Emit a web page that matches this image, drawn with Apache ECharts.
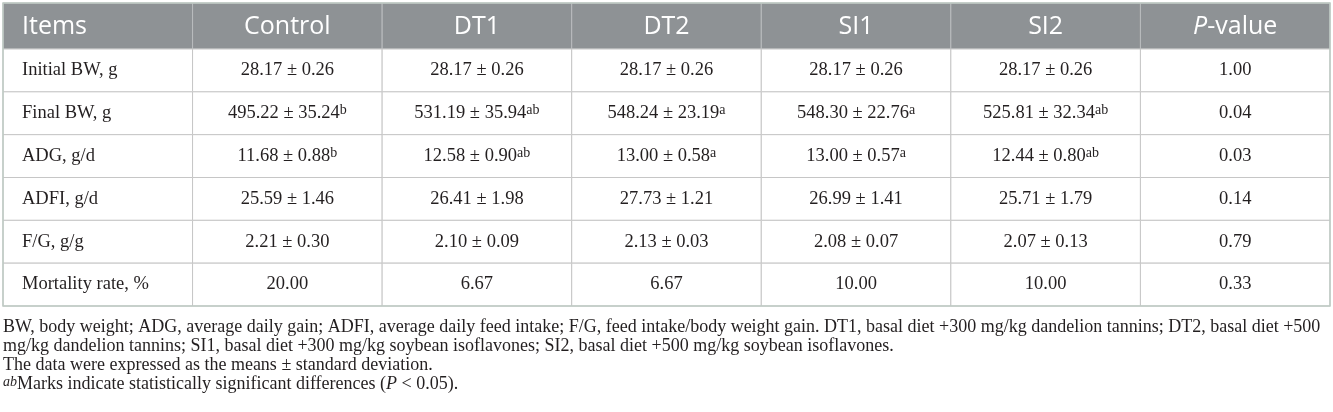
<!DOCTYPE html>
<html>
<head>
<meta charset="utf-8">
<script src="https://cdn.jsdelivr.net/npm/echarts@6/dist/echarts.min.js"></script>
<style>
html, body { margin: 0; padding: 0; background: #fff; }
#main { width: 1333px; height: 412px; }
</style>
</head>
<body>
<div id="main"></div>
<script>
// table contents
var headers = ['Items', 'Control', 'DT1', 'DT2', 'SI1', 'SI2', '{it|P}-value'];
var items = ['Initial BW, g', 'Final BW, g', 'ADG, g/d', 'ADFI, g/d', 'F/G, g/g', 'Mortality rate, %'];

var initialBWMean = [28.17, 28.17, 28.17, 28.17, 28.17];
var initialBWSd = [0.26, 0.26, 0.26, 0.26, 0.26];
var finalBWMean = [495.22, 531.19, 548.24, 548.30, 525.81];
var finalBWSd = [35.24, 35.94, 23.19, 22.76, 32.34];
var finalBWSig = ['b', 'ab', 'a', 'a', 'ab'];
var adgMean = [11.68, 12.58, 13.00, 13.00, 12.44];
var adgSd = [0.88, 0.90, 0.58, 0.57, 0.80];
var adgSig = ['b', 'ab', 'a', 'a', 'ab'];
var adfiMean = [25.59, 26.41, 27.73, 26.99, 25.71];
var adfiSd = [1.46, 1.98, 1.21, 1.41, 1.79];
var fgMean = [2.21, 2.10, 2.13, 2.08, 2.07];
var fgSd = [0.30, 0.09, 0.03, 0.07, 0.13];
var mortality = [20.00, 6.67, 6.67, 10.00, 10.00];
var pValues = [1.00, 0.04, 0.03, 0.14, 0.79, 0.33];

var footnotes = [
	'BW, body weight; ADG, average daily gain; ADFI, average daily feed intake; F/G, feed intake/body weight gain. DT1, basal diet +300 mg/kg dandelion tannins; DT2, basal diet +500',
	'mg/kg dandelion tannins; SI1, basal diet +300 mg/kg soybean isoflavones; SI2, basal diet +500 mg/kg soybean isoflavones.',
	'The data were expressed as the means \u00b1 standard deviation.',
	'{supi|ab}Marks indicate statistically significant differences ({it|P} < 0.05).'
];

function meanSd(m, s, sig) {
	return m.map(function(v, i) {
		var t = v.toFixed(2) + ' \u00b1 ' + s[i].toFixed(2);
		if (sig) t += '{sup|' + sig[i] + '}';
		return t;
	});
}

var rowsText = [
	meanSd(initialBWMean, initialBWSd),
	meanSd(finalBWMean, finalBWSd, finalBWSig),
	meanSd(adgMean, adgSd, adgSig),
	meanSd(adfiMean, adfiSd),
	meanSd(fgMean, fgSd),
	mortality.map(function(v) { return v.toFixed(2); })
];

var cellText = rowsText.map(function(r, i) {
	return [items[i]].concat(r).concat([pValues[i].toFixed(2)]);
});

var bodyData = [];
cellText.forEach(function(r, ri) {
	r.forEach(function(t, ci) { bodyData.push([ci, ri]); });
});
var headData = headers.map(function(h, i) { return [i, 0]; });

var headH = 46;
var serif = 'Liberation Serif';
var sans = 'Open Sans';

function renderBody(params, api) {
	var col = api.value(0), row = api.value(1);
	var c = api.coord([col, row]);
	var s = api.size([1, 1]);
	var x = c[0] - s[0] / 2, y = c[1] - s[1] / 2;
	return {
		type: 'group',
		children: [{
			type: 'rect',
			shape: { x: x, y: y, width: s[0], height: s[1] },
			style: { fill: '#fff', stroke: '#c6c6c6', lineWidth: 1 }
		}, {
			type: 'text',
			style: {
				text: cellText[row][col],
				x: col === 0 ? x + 19 : c[0],
				y: c[1],
				align: col === 0 ? 'left' : 'center',
				verticalAlign: 'middle',
				fill: '#231f20',
				font: '18.5px ' + serif,
				rich: {
					sup: { fontSize: 14, fontFamily: serif, verticalAlign: 'top', lineHeight: 12, fill: '#231f20' }
				}
			}
		}]
	};
}

function renderHead(params, api) {
	var col = api.value(0);
	var c = api.coord([col, 0]);
	var s = api.size([1, 1]);
	var x = c[0] - s[0] / 2;
	var y = params.coordSys.y - headH;
	return {
		type: 'group',
		children: [{
			type: 'rect',
			shape: { x: x, y: y, width: s[0], height: headH },
			style: { fill: '#8e9295', stroke: '#b9bcbe', lineWidth: 1 }
		}, {
			type: 'text',
			style: {
				text: headers[col],
				x: col === 0 ? x + 19 : c[0],
				y: y + headH / 2 + 1,
				align: col === 0 ? 'left' : 'center',
				verticalAlign: 'middle',
				fill: '#ffffff',
				font: '25px "' + sans + '"',
				rich: {
					it: { fontStyle: 'italic', fontSize: 25, fontFamily: sans, fill: '#ffffff' }
				}
			}
		}]
	};
}

var myChart = echarts.init(document.getElementById('main'));
var footY = [327, 346, 365, 384];
var option = {
	backgroundColor: '#ffffff',
	animation: false,
	grid: {
		left: 3,
		right: 3,
		top: 3 + headH,
		bottom: 106
	},
	xAxis: {
		type: 'category',
		data: headers,
		show: false
	},
	yAxis: {
		type: 'category',
		data: items,
		inverse: true,
		show: false
	},
	series: [{
		type: 'custom',
		renderItem: renderHead,
		data: headData,
		silent: true
	}, {
		type: 'custom',
		renderItem: renderBody,
		data: bodyData,
		silent: true
	}],
	graphic: [{
		type: 'rect',
		shape: { x: 3, y: 3, width: 1327, height: 303 },
		style: { fill: 'none', stroke: '#bfcac4', lineWidth: 1.5 },
		z: 100,
		silent: true
	}].concat(footnotes.map(function(t, i) {
		return {
			type: 'text',
			x: 3,
			y: footY[i],
			style: {
				text: t,
				verticalAlign: 'middle',
				fill: '#231f20',
				font: '18px ' + serif,
				rich: {
					it: { fontStyle: 'italic', fontSize: 18, fontFamily: serif, fill: '#231f20' },
					supi: { fontStyle: 'italic', fontSize: 14, fontFamily: serif, verticalAlign: 'top', lineHeight: 12, fill: '#231f20' }
				}
			},
			silent: true
		};
	}))
};
myChart.setOption(option);
</script>
</body>
</html>
